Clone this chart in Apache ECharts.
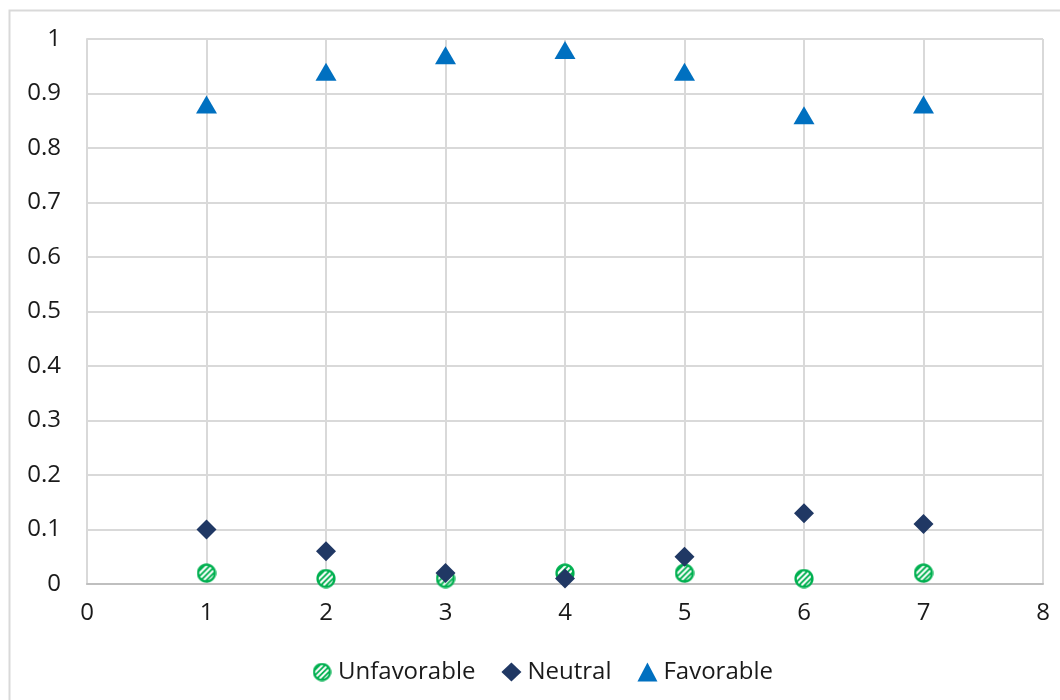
<!DOCTYPE html>
<html>
<head>
<meta charset="utf-8">
<script src="https://cdn.jsdelivr.net/npm/echarts@6/dist/echarts.min.js"></script>
<style>
  html, body { margin: 0; padding: 0; background: #fff; }
  #chart { width: 1060px; height: 700px; }
</style>
</head>
<body>
<div id="chart"></div>
<script>
// Survey response shares for seven items
const xValues = [1, 2, 3, 4, 5, 6, 7];
const unfavorable = [0.02, 0.01, 0.01, 0.02, 0.02, 0.01, 0.02];
const neutral = [0.10, 0.06, 0.02, 0.01, 0.05, 0.13, 0.11];
const favorable = [0.88, 0.94, 0.97, 0.98, 0.94, 0.86, 0.88];
const seriesNames = ['Unfavorable', 'Neutral', 'Favorable'];

const pairs = (ys) => xValues.map((x, i) => [x, ys[i]]);

// Striped green circle marker (green ring, white diagonal hatching inside)
function stripedCircle() {
  const s = 4;            // draw at 4x for smooth downscaling
  const d = 20 * s;
  const c = document.createElement('canvas');
  c.width = d; c.height = d;
  const g = c.getContext('2d');
  const r = d / 2;
  g.save();
  g.beginPath();
  g.arc(r, r, r - 0.5 * s, 0, Math.PI * 2);
  g.fillStyle = '#00b050';
  g.fill();
  g.clip();
  g.strokeStyle = '#ffffff';
  g.lineWidth = 2.1 * s;
  const step = 5.6 * s;
  g.beginPath();
  for (let k = -d + 2 * s; k <= 2 * d; k += step) {
    g.moveTo(k, d); g.lineTo(k + d, 0);
  }
  g.stroke();
  g.restore();
  g.beginPath();
  g.arc(r, r, r - 1.6 * s, 0, Math.PI * 2);
  g.lineWidth = 2.4 * s;
  g.strokeStyle = '#00b050';
  g.stroke();
  return 'image://' + c.toDataURL('image/png');
}

const chart = echarts.init(document.getElementById('chart'));
const font = '"Open Sans", "Liberation Sans", sans-serif';
const textColor = '#1a1a1a';
const circleSymbol = stripedCircle();

chart.setOption({
  animation: false,
  backgroundColor: '#ffffff',
  textStyle: { fontFamily: font },
  graphic: [{
    type: 'rect',
    shape: { x: 9.5, y: 10.5, width: 1060, height: 700 },
    style: { fill: 'none', stroke: '#d9d9d9', lineWidth: 2 },
    silent: true
  }],
  grid: { left: 87, right: 17, top: 39, bottom: 116, containLabel: false },
  legend: {
    top: 655,
    left: 307,
    itemGap: 26,
    itemWidth: 20,
    itemHeight: 19,
    textStyle: { fontSize: 24, color: textColor, fontFamily: font, padding: [0, 0, 0, 1] },
    data: seriesNames
  },
  xAxis: {
    type: 'value',
    min: 0, max: 8, interval: 1,
    axisLine: { show: true, lineStyle: { color: '#bfbfbf', width: 2 } },
    axisTick: { show: false },
    splitLine: { show: true, lineStyle: { color: '#d9d9d9', width: 2 } },
    axisLabel: { fontSize: 24, color: textColor, margin: 17 }
  },
  yAxis: {
    type: 'value',
    min: 0, max: 1, interval: 0.1,
    axisLine: { show: true, lineStyle: { color: '#d9d9d9', width: 2 } },
    axisTick: { show: false },
    splitLine: { show: true, lineStyle: { color: '#d9d9d9', width: 2 } },
    axisLabel: {
      fontSize: 24, color: textColor, margin: 26,
      formatter: (v) => String(Math.round(v * 10) / 10)
    }
  },
  series: [
    {
      name: seriesNames[0],
      type: 'scatter',
      symbol: circleSymbol,
      symbolSize: 20,
      itemStyle: { color: '#00b050', opacity: 1 },
      data: pairs(unfavorable),
      z: 2
    },
    {
      name: seriesNames[1],
      type: 'scatter',
      symbol: 'diamond',
      symbolSize: 20,
      itemStyle: { color: '#203864', opacity: 1 },
      data: pairs(neutral),
      z: 3
    },
    {
      name: seriesNames[2],
      type: 'scatter',
      symbol: 'triangle',
      symbolSize: [21, 18],
      itemStyle: { color: '#0070c0', opacity: 1 },
      data: pairs(favorable),
      z: 4
    }
  ]
});
</script>
</body>
</html>
